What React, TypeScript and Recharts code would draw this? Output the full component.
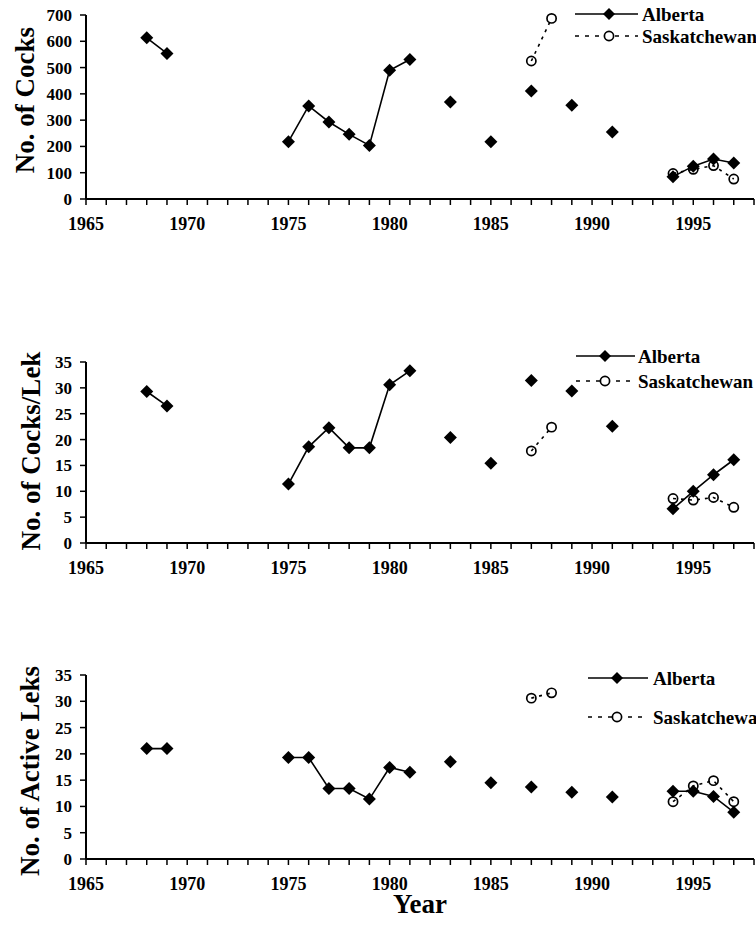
import React from 'react';
import { LineChart, Line, XAxis, YAxis, Legend, Label } from 'recharts';

// survey years covered by the data rows
const years = [
  1968, 1969, 1970, 1971, 1972, 1973, 1974, 1975, 1976, 1977,
  1978, 1979, 1980, 1981, 1982, 1983, 1984, 1985, 1986, 1987,
  1988, 1989, 1990, 1991, 1992, 1993, 1994, 1995, 1996, 1997,
];

const xTicks = [
  1965, 1966, 1967, 1968, 1969, 1970, 1971, 1972, 1973, 1974, 1975, 1976,
  1977, 1978, 1979, 1980, 1981, 1982, 1983, 1984, 1985, 1986, 1987, 1988,
  1989, 1990, 1991, 1992, 1993, 1994, 1995, 1996, 1997, 1998,
];
const cocksTicks = [0, 100, 200, 300, 400, 500, 600, 700];
const smallTicks = [0, 5, 10, 15, 20, 25, 30, 35];

// No. of Cocks
const albertaCocks = [
  613, 554, null, null, null, null, null, 218, 354, 293,
  246, 204, 490, 531, null, 369, null, 218, null, 411,
  null, 357, null, 255, null, null, 85, 125, 152, 137,
];
const saskCocks = [
  null, null, null, null, null, null, null, null, null, null,
  null, null, null, null, null, null, null, null, null, 525,
  687, null, null, null, null, null, 97, 113, 127, 76,
];

// No. of Cocks/Lek
const albertaPerLek = [
  29.3, 26.5, null, null, null, null, null, 11.4, 18.6, 22.3,
  18.4, 18.4, 30.6, 33.3, null, 20.4, null, 15.4, null, 31.4,
  null, 29.4, null, 22.6, null, null, 6.6, 10.0, 13.2, 16.1,
];
const saskPerLek = [
  null, null, null, null, null, null, null, null, null, null,
  null, null, null, null, null, null, null, null, null, 17.8,
  22.4, null, null, null, null, null, 8.6, 8.3, 8.8, 6.9,
];

// No. of Active Leks
const albertaLeks = [
  21.0, 21.0, null, null, null, null, null, 19.3, 19.3, 13.4,
  13.4, 11.4, 17.4, 16.5, null, 18.5, null, 14.5, null, 13.7,
  null, 12.7, null, 11.8, null, null, 12.9, 12.9, 11.9, 8.9,
];
const saskLeks = [
  null, null, null, null, null, null, null, null, null, null,
  null, null, null, null, null, null, null, null, null, 30.6,
  31.6, null, null, null, null, null, 10.9, 13.9, 14.9, 10.9,
];

const FONT = '"Liberation Serif", "Times New Roman", serif';

function buildRows(alberta: (number | null)[], sask: (number | null)[]) {
  return years.map((year, i) => ({ year, alberta: alberta[i], sask: sask[i] }));
}

function Diamond(props: any) {
  const { cx, cy, value, index } = props;
  if (value == null || cx == null || cy == null) return <g key={`a-${index}`} />;
  const s = 6.5;
  return (
    <polygon
      key={`a-${index}`}
      points={`${cx},${cy - s} ${cx + s},${cy} ${cx},${cy + s} ${cx - s},${cy}`}
      fill="#000"
    />
  );
}

function OpenCircle(props: any) {
  const { cx, cy, value, index } = props;
  if (value == null || cx == null || cy == null) return <g key={`s-${index}`} />;
  return <circle key={`s-${index}`} cx={cx} cy={cy} r={4.6} fill="none" stroke="#000" strokeWidth={1.7} />;
}

function LegendBox({ y1, y2, mid, lineEnd, textX }: { y1: number; y2: number; mid: number; lineEnd: number; textX: number }) {
  const s = 6;
  const textStyle = { fontFamily: FONT, fontWeight: 700, fontSize: 19, fill: '#000' };
  return (
    <svg width={200} height={y2 + 14} style={{ display: 'block', overflow: 'visible' }}>
      <line x1={0} x2={lineEnd} y1={y1} y2={y1} stroke="#000" strokeWidth={1.6} />
      <polygon points={`${mid},${y1 - s} ${mid + s},${y1} ${mid},${y1 + s} ${mid - s},${y1}`} fill="#000" />
      <text x={textX} y={y1} dominantBaseline="central" style={textStyle}>Alberta</text>
      <line x1={0} x2={lineEnd} y1={y2} y2={y2} stroke="#000" strokeWidth={1.6} strokeDasharray="4 6" />
      <circle cx={mid} cy={y2} r={4.6} fill="#fff" stroke="#000" strokeWidth={1.7} />
      <text x={textX} y={y2} dominantBaseline="central" style={textStyle}>Saskatchewan</text>
    </svg>
  );
}

interface PanelProps {
  top: number;
  height: number;
  marginBottom: number;
  xHeight: number;
  data: { year: number; alberta: number | null; sask: number | null }[];
  yMax: number;
  yTicks: number[];
  title: string;
  titleX: number;
  titleY: number;
  legendLeft: number;
  legendTop: number;
  legendRows: [number, number];
  legendMid: number;
  legendLineEnd: number;
  legendTextX: number;
  showYear?: boolean;
}

function Panel(p: PanelProps) {
  return (
    <div style={{ position: 'absolute', left: 0, top: p.top }}>
      <LineChart
        width={756}
        height={p.height}
        data={p.data}
        margin={{ top: 15, right: 2, bottom: p.marginBottom, left: 0 }}
      >
        <XAxis
          dataKey="year"
          type="number"
          domain={[1965, 1998]}
          ticks={xTicks}
          interval={0}
          height={p.xHeight}
          tickFormatter={(v: number) => (v % 5 === 0 && v <= 1995 ? String(v) : '')}
          axisLine={{ stroke: '#000', strokeWidth: 2 }}
          tickLine={{ stroke: '#000', strokeWidth: 1.5 }}
          tickSize={6}
          tickMargin={12}
          tick={{ fill: '#000', fontFamily: FONT, fontWeight: 700, fontSize: 18 }}
        >
          {p.showYear && (
            <Label
              content={() => (
                <text
                  x={420}
                  y={253}
                  textAnchor="middle"
                  style={{ fontFamily: FONT, fontWeight: 700, fontSize: 27, fill: '#000' }}
                >
                  Year
                </text>
              )}
            />
          )}
        </XAxis>
        <YAxis
          type="number"
          domain={[0, p.yMax]}
          ticks={p.yTicks}
          interval={0}
          width={86}
          axisLine={{ stroke: '#000', strokeWidth: 2 }}
          tickLine={{ stroke: '#000', strokeWidth: 1.5 }}
          tickSize={6}
          tickMargin={8}
          tick={{ fill: '#000', fontFamily: FONT, fontWeight: 700, fontSize: 17 }}
        >
          <Label
            content={() => (
              <text
                x={p.titleX}
                y={p.titleY}
                transform={`rotate(-90 ${p.titleX} ${p.titleY})`}
                textAnchor="middle"
                dominantBaseline="central"
                style={{ fontFamily: FONT, fontWeight: 700, fontSize: 27, fill: '#000' }}
              >
                {p.title}
              </text>
            )}
          />
        </YAxis>
        <Legend
          layout="vertical"
          align="center"
          verticalAlign="middle"
          wrapperStyle={{ left: p.legendLeft, top: p.legendTop, width: 200 }}
          content={() => (
            <LegendBox
              y1={p.legendRows[0]}
              y2={p.legendRows[1]}
              mid={p.legendMid}
              lineEnd={p.legendLineEnd}
              textX={p.legendTextX}
            />
          )}
        />
        <Line
          dataKey="sask"
          name="Saskatchewan"
          stroke="#000"
          strokeWidth={1.6}
          strokeDasharray="3 5"
          dot={OpenCircle}
          activeDot={false}
          connectNulls={false}
          isAnimationActive={false}
        />
        <Line
          dataKey="alberta"
          name="Alberta"
          stroke="#000"
          strokeWidth={1.6}
          dot={Diamond}
          activeDot={false}
          connectNulls={false}
          isAnimationActive={false}
        />
      </LineChart>
    </div>
  );
}

export default function App() {
  return (
    <div
      style={{
        position: 'absolute',
        left: 0,
        top: 0,
        width: 756,
        height: 926,
        overflow: 'hidden',
        background: '#fff',
      }}
    >
      <Panel
        top={0}
        height={240}
        marginBottom={11}
        xHeight={30}
        data={buildRows(albertaCocks, saskCocks)}
        yMax={700}
        yTicks={cocksTicks}
        title="No. of Cocks"
        titleX={25}
        titleY={100}
        legendLeft={575}
        legendTop={0}
        legendRows={[14, 36]}
        legendMid={34}
        legendLineEnd={63}
        legendTextX={67}
      />
      <Panel
        top={347}
        height={240}
        marginBottom={14}
        xHeight={30}
        data={buildRows(albertaPerLek, saskPerLek)}
        yMax={35}
        yTicks={smallTicks}
        title="No. of Cocks/Lek"
        titleX={31}
        titleY={104}
        legendLeft={576}
        legendTop={0}
        legendRows={[9, 34]}
        legendMid={29}
        legendLineEnd={59}
        legendTextX={62}
      />
      <Panel
        top={660}
        height={266}
        marginBottom={7}
        xHeight={60}
        data={buildRows(albertaLeks, saskLeks)}
        yMax={35}
        yTicks={smallTicks}
        title="No. of Active Leks"
        titleX={30}
        titleY={111}
        legendLeft={588}
        legendTop={0}
        legendRows={[18, 57]}
        legendMid={29}
        legendLineEnd={60}
        legendTextX={65}
        showYear
      />
    </div>
  );
}
